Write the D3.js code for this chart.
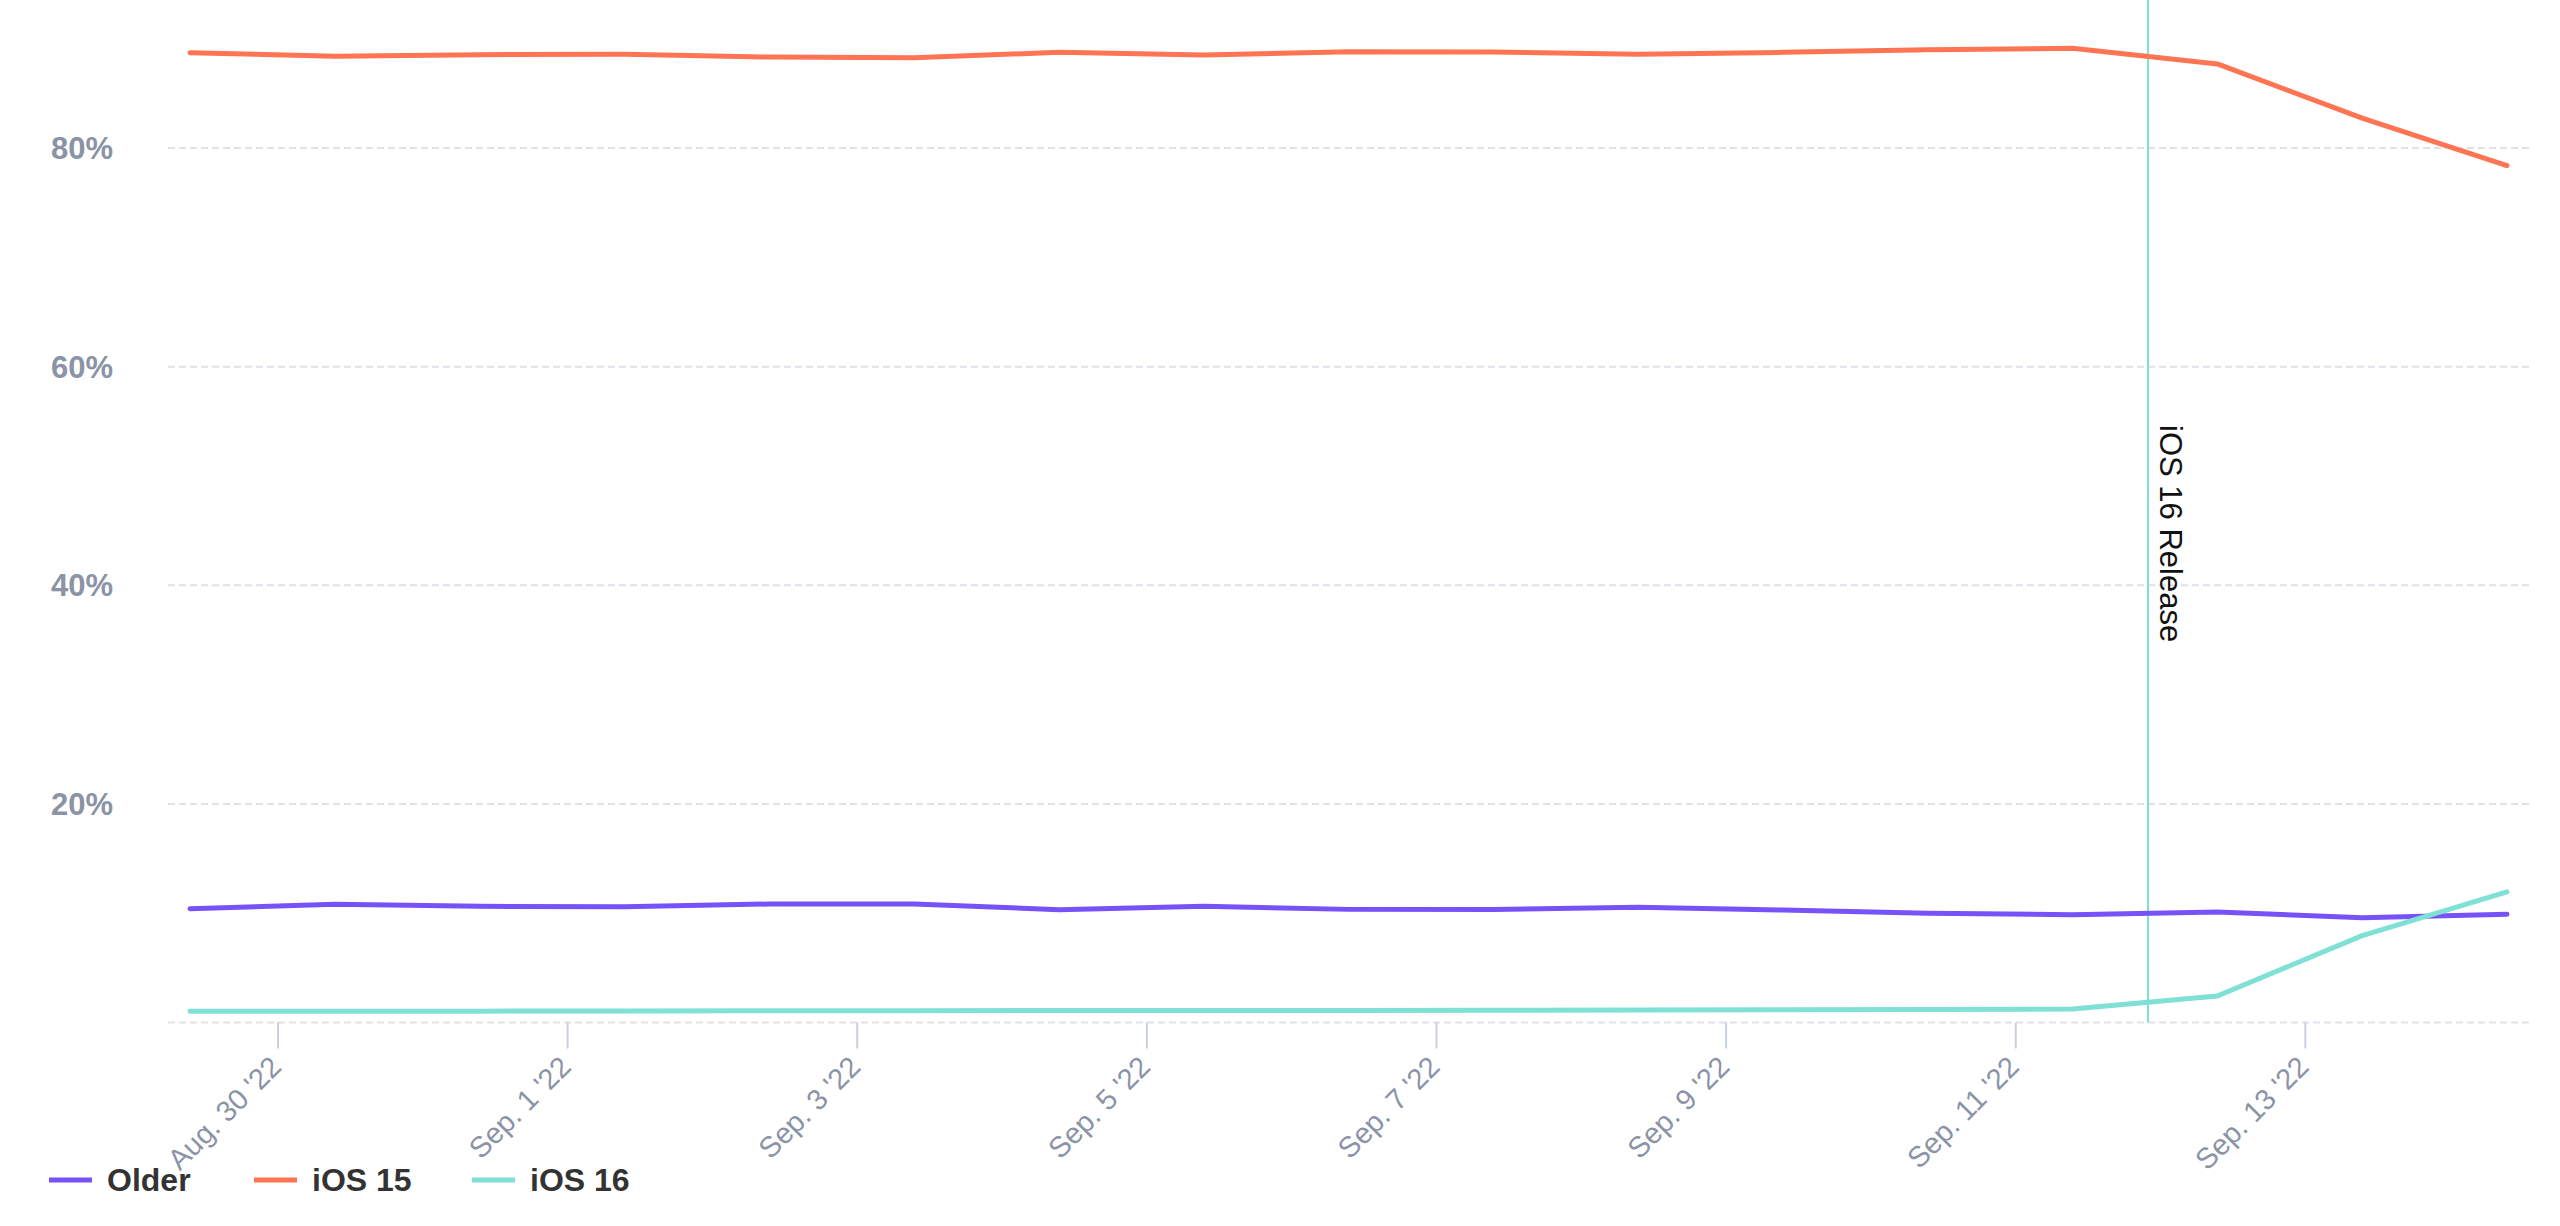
<!DOCTYPE html>
<html>
<head>
<meta charset="utf-8">
<script src="https://cdn.jsdelivr.net/npm/d3@7"></script>
<style>
  html, body { margin: 0; padding: 0; background: #fff; }
  svg { display: block; font-family: "Liberation Sans", Arial, sans-serif; }
</style>
</head>
<body>
<svg id="chart" width="2560" height="1226"></svg>
<script>
// ---- data ----
const dates = [
  "2022-08-29T09:30Z","2022-08-30T09:30Z","2022-08-31T09:30Z","2022-09-01T09:30Z",
  "2022-09-02T09:30Z","2022-09-03T09:30Z","2022-09-04T09:30Z","2022-09-05T09:30Z",
  "2022-09-06T09:30Z","2022-09-07T09:30Z","2022-09-08T09:30Z","2022-09-09T09:30Z",
  "2022-09-10T09:30Z","2022-09-11T09:30Z","2022-09-12T09:30Z","2022-09-13T09:30Z",
  "2022-09-14T09:30Z"
];
const older = [10.41, 10.81, 10.63, 10.60, 10.84, 10.84, 10.32, 10.63, 10.35, 10.35, 10.54, 10.29, 9.99, 9.86, 10.11, 9.59, 9.90];
const ios15 = [88.73, 88.40, 88.55, 88.58, 88.33, 88.27, 88.76, 88.52, 88.82, 88.80, 88.58, 88.76, 89.00, 89.13, 87.70, 82.75, 78.40];
const ios16 = [1.02, 1.03, 1.04, 1.05, 1.07, 1.08, 1.09, 1.10, 1.10, 1.12, 1.14, 1.16, 1.20, 1.23, 2.42, 7.95, 11.95];
const seriesNames = ["Older", "iOS 15", "iOS 16"];
const seriesColors = ["#7752f8", "#ff7452", "#7fe1d5"];
const yTicks = [0, 20, 40, 60, 80];
const xTickDates = ["2022-08-30","2022-09-01","2022-09-03","2022-09-05","2022-09-07","2022-09-09","2022-09-11","2022-09-13"];
const releaseDate = "2022-09-11T22:00Z";
const releaseLabel = "iOS 16 Release";

// ---- layout ----
const svg = d3.select("#chart");
const parsed = dates.map(d => new Date(d));
const x = d3.scaleUtc().domain([parsed[0], parsed[parsed.length - 1]]).range([190, 2507]);
const y = d3.scaleLinear().domain([0, 93.55]).range([1022.5, 0]);
const gridX0 = 168, gridX1 = 2530;
const axisColor = "#8b93a7";

// gridlines
svg.append("g").selectAll("line").data(yTicks).join("line")
  .attr("x1", gridX0).attr("x2", gridX1)
  .attr("y1", d => y(d)).attr("y2", d => y(d))
  .attr("stroke", "#dfe1e7").attr("stroke-width", 2)
  .attr("stroke-dasharray", "7,4");

// y labels (no 0%)
svg.append("g").selectAll("text").data(yTicks.filter(d => d > 0)).join("text")
  .attr("x", 113).attr("y", d => y(d) + 3)
  .attr("text-anchor", "end").attr("dominant-baseline", "middle")
  .attr("font-size", 31).attr("font-weight", "bold").attr("fill", axisColor)
  .text(d => d + "%");

// x axis ticks
const fmtMon = d3.utcFormat("%b");
const fmtLabel = d => `${fmtMon(d)}. ${d.getUTCDate()} '${String(d.getUTCFullYear()).slice(2)}`;
const xt = xTickDates.map(d => new Date(d + "T00:00Z"));
const xAxis = d3.axisBottom(x).tickValues(xt).tickSize(26).tickFormat(fmtLabel);
const gx = svg.append("g").attr("transform", `translate(0, ${y(0)})`).call(xAxis);
gx.select(".domain").remove();
gx.selectAll(".tick line").attr("stroke", "#c8d0df").attr("stroke-width", 2);
gx.selectAll(".tick text")
  .attr("fill", axisColor).attr("font-size", 29)
  .attr("font-family", "'Liberation Sans', Arial, sans-serif")
  .attr("text-anchor", "end")
  .attr("dy", null).attr("y", null)
  .attr("transform", "translate(5, 46) rotate(-45)");

// release line
const rx = x(new Date(releaseDate));
svg.append("line").attr("x1", rx).attr("x2", rx).attr("y1", 0).attr("y2", y(0))
  .attr("stroke", "#7fe1d5").attr("stroke-width", 2);
svg.append("text")
  .attr("transform", `translate(${rx + 12}, 425) rotate(90)`)
  .attr("font-size", 31).attr("fill", "#111")
  .text(releaseLabel);

// lines
const allSeries = [older, ios15, ios16];
const line = d3.line().x((d, i) => x(parsed[i])).y(d => y(d));
svg.append("g").selectAll("path").data(allSeries).join("path")
  .attr("d", d => line(d))
  .attr("fill", "none")
  .attr("stroke", (d, i) => seriesColors[i])
  .attr("stroke-width", 5)
  .attr("stroke-linejoin", "round").attr("stroke-linecap", "round");

// legend
const legendX = [49, 254, 472];
const lg = svg.append("g").selectAll("g").data(seriesNames).join("g")
  .attr("transform", (d, i) => `translate(${legendX[i]}, 1180)`);
lg.append("line").attr("x1", 0).attr("x2", 43).attr("y1", 0).attr("y2", 0)
  .attr("stroke", (d, i) => seriesColors[i]).attr("stroke-width", 5);
lg.append("text").attr("x", 58).attr("y", 0).attr("dominant-baseline", "central")
  .attr("font-size", 32).attr("font-weight", "bold").attr("fill", "#333")
  .text(d => d);
</script>
</body>
</html>
